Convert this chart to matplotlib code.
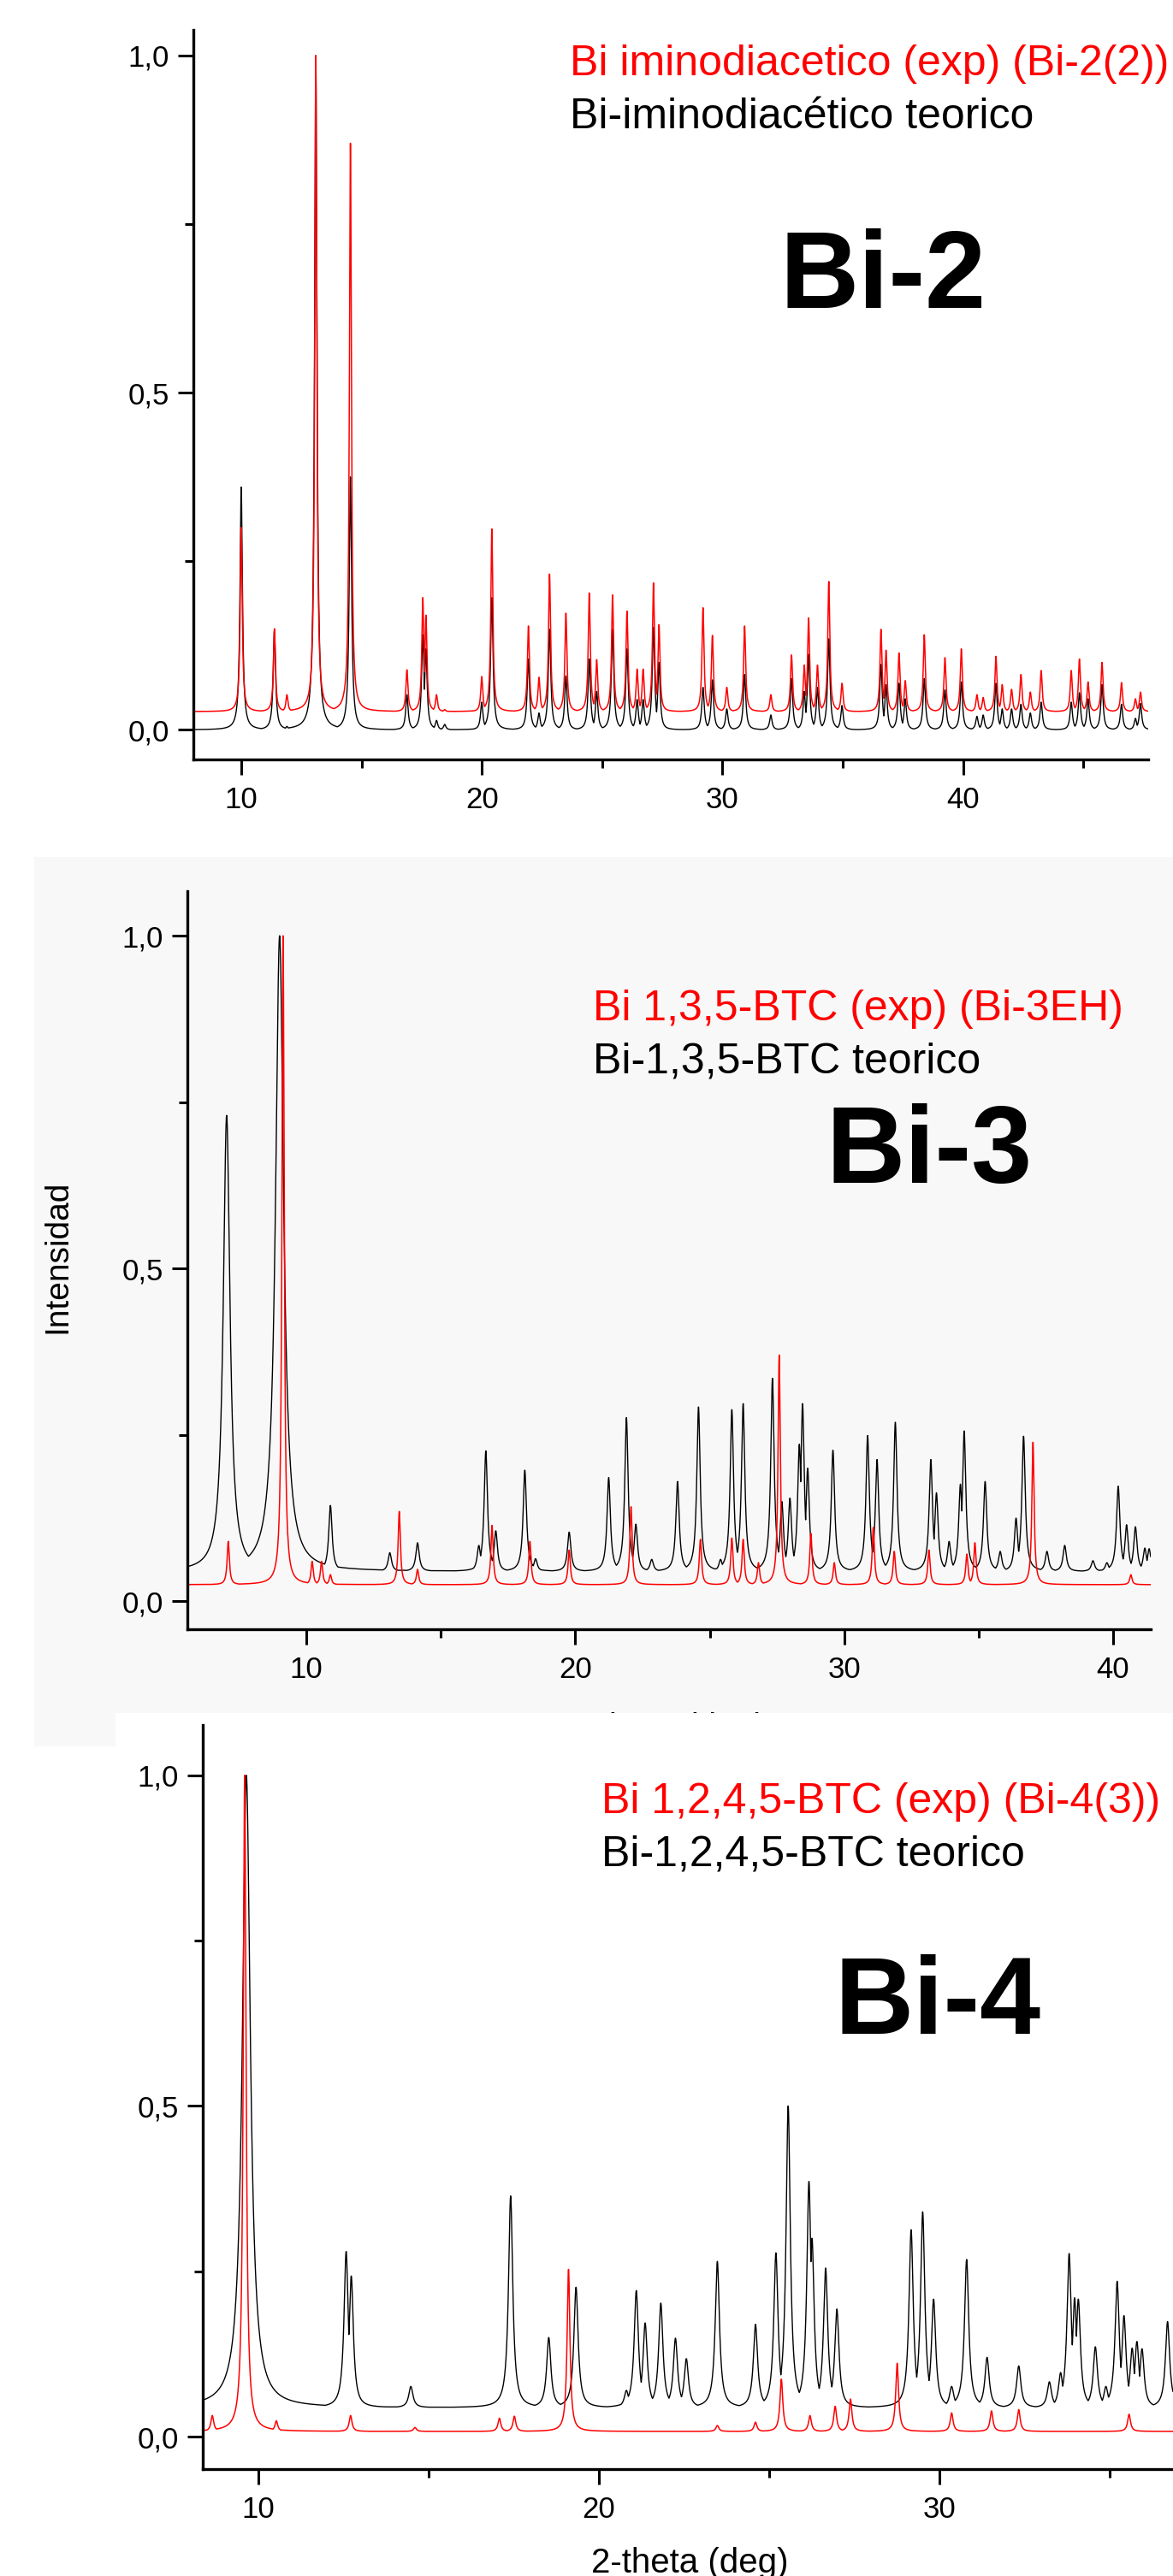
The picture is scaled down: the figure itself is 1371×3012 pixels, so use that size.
import numpy as np
import matplotlib.pyplot as plt
from matplotlib.patches import Rectangle
from matplotlib.ticker import FuncFormatter, MultipleLocator

plt.rcParams['font.family'] = ['Liberation Sans', 'DejaVu Sans']

W, H = 1371, 3012

# ---- Bi-2 : posiciones de picos (2-theta) y alturas leidas ----
B2_POS = [9.99, 11.37, 11.89, 13.09, 14.53, 16.88, 17.54, 17.67, 18.11, 18.45,
          19.99, 20.41, 21.93, 22.37, 22.81, 23.49, 24.46, 24.77, 25.43, 26.03,
          26.45, 26.70, 27.13, 27.36, 29.19, 29.58, 30.18, 30.92, 32.01, 32.87,
          33.40, 33.58, 33.95, 34.42, 34.97, 36.59, 36.80, 37.34, 37.60, 38.39,
          39.25, 39.93, 40.58, 40.84, 41.37, 41.63, 42.02, 42.41, 42.80, 43.25,
          44.50, 44.84, 45.20, 45.78, 46.59, 47.17, 47.38]
B2_EXP = [0.30, 0.15, 0.052, 1.0, 0.87, 0.089, 0.196, 0.17, 0.052, 0.03,
          0.079, 0.298, 0.154, 0.078, 0.231, 0.173, 0.203, 0.104, 0.20, 0.176,
          0.09, 0.09, 0.218, 0.156, 0.181, 0.14, 0.063, 0.154, 0.052, 0.111,
          0.096, 0.166, 0.096, 0.22, 0.069, 0.149, 0.118, 0.114, 0.073, 0.141,
          0.107, 0.12, 0.052, 0.048, 0.109, 0.067, 0.06, 0.082, 0.056, 0.088,
          0.088, 0.105, 0.071, 0.10, 0.07, 0.046, 0.056]
B2_TEO = [0.36, 0.148, 0.005, 1.0, 0.375, 0.052, 0.141, 0.12, 0.014, 0.008,
          0.041, 0.196, 0.105, 0.025, 0.149, 0.08, 0.105, 0.057, 0.149, 0.12,
          0.045, 0.045, 0.152, 0.10, 0.063, 0.074, 0.031, 0.082, 0.022, 0.076,
          0.057, 0.112, 0.063, 0.135, 0.036, 0.097, 0.067, 0.069, 0.046, 0.076,
          0.059, 0.071, 0.02, 0.022, 0.069, 0.031, 0.031, 0.038, 0.025, 0.041,
          0.041, 0.055, 0.046, 0.067, 0.038, 0.017, 0.039]

# ---- Bi-3 ----
B3_TEO_POS = [7.03, 9.00, 10.89, 13.10, 14.13, 16.41, 16.67, 17.04, 18.12, 18.52,
              19.77, 21.24, 21.90, 22.25, 22.84, 23.80, 24.58, 25.40, 25.82, 26.24,
              27.33, 27.68, 27.98, 28.33, 28.45, 28.64, 29.58, 30.87, 31.22, 31.90,
              33.22, 33.43, 33.90, 34.32, 34.46, 35.24, 35.80, 36.39, 36.67, 37.54,
              38.20, 39.25, 39.77, 40.19, 40.50, 40.83, 41.18, 41.34]
B3_TEO = [0.73, 1.0, 0.144, 0.073, 0.088, 0.084, 0.226, 0.106, 0.197, 0.064,
          0.104, 0.186, 0.276, 0.116, 0.063, 0.18, 0.292, 0.063, 0.288, 0.297,
          0.335, 0.15, 0.155, 0.236, 0.297, 0.20, 0.227, 0.249, 0.213, 0.269,
          0.213, 0.163, 0.09, 0.176, 0.256, 0.18, 0.075, 0.125, 0.248, 0.075,
          0.084, 0.061, 0.058, 0.173, 0.115, 0.112, 0.08, 0.079]
B3_EXP_POS = [7.09, 9.13, 9.30, 10.21, 10.56, 10.89, 13.45, 14.13, 16.90, 18.31,
              19.77, 22.07, 24.65, 25.82, 26.24, 26.81, 27.58, 28.76, 29.63, 31.08,
              31.86, 33.15, 34.56, 34.86, 37.02, 40.66]
B3_EXP = [0.09, 1.0, 0.10, 0.06, 0.06, 0.04, 0.135, 0.048, 0.114, 0.09,
          0.077, 0.142, 0.093, 0.095, 0.093, 0.058, 0.37, 0.102, 0.058, 0.111,
          0.075, 0.077, 0.071, 0.088, 0.239, 0.04]

# ---- Bi-4 ----
B4_TEO_POS = [9.65, 12.58, 12.73, 14.48, 17.41, 18.53, 19.33, 20.81, 21.10, 21.36,
              21.82, 22.25, 22.57, 23.48, 24.60, 25.20, 25.56, 26.17, 26.26, 26.66,
              26.99, 29.17, 29.51, 29.83, 30.36, 30.80, 31.40, 32.33, 33.23, 33.56,
              33.81, 33.97, 34.08, 34.58, 34.89, 35.22, 35.42, 35.66, 35.80, 35.95,
              36.70]
B4_TEO = [1.0, 0.28, 0.243, 0.076, 0.364, 0.15, 0.226, 0.07, 0.221, 0.172,
          0.202, 0.149, 0.118, 0.265, 0.17, 0.278, 0.50, 0.386, 0.30, 0.255,
          0.193, 0.313, 0.34, 0.208, 0.076, 0.268, 0.12, 0.107, 0.083, 0.097,
          0.277, 0.21, 0.208, 0.136, 0.076, 0.235, 0.183, 0.134, 0.144, 0.133,
          0.174]
B4_EXP_POS = [8.65, 9.60, 9.89, 10.53, 12.71, 14.60, 17.08, 17.52, 19.11, 23.48,
              24.60, 25.36, 26.20, 26.94, 27.39, 28.76, 30.36, 31.53, 32.33, 35.57]
B4_EXP = [0.032, 1.0, 0.031, 0.024, 0.032, 0.014, 0.028, 0.031, 0.253, 0.017,
          0.022, 0.087, 0.032, 0.046, 0.057, 0.111, 0.036, 0.039, 0.041, 0.034]


def pattern(x, pos, heights, base, w, wide=None):
    # envolvente de lorentzianas sobre una linea base (conserva las alturas leidas)
    y = np.zeros_like(x)
    for p, h in zip(pos, heights):
        ww = wide.get(p, w) if wide else w
        y = np.maximum(y, (h - base) / (1 + ((x - p) / (ww / 2)) ** 2))
    return base + y


def comma(v, _):
    return f"{v:.1f}".replace('.', ',')


def make_axes(fig, left, top, right, bottom, xlim, ylim):
    ax = fig.add_axes([left / W, 1 - bottom / H, (right - left) / W, (bottom - top) / H])
    ax.set_xlim(xlim)
    ax.set_ylim(ylim)
    ax.patch.set_alpha(0)
    for s in ['top', 'right']:
        ax.spines[s].set_visible(False)
    for s in ['left', 'bottom']:
        ax.spines[s].set_linewidth(2.4)
    ax.xaxis.set_major_locator(MultipleLocator(10))
    ax.xaxis.set_minor_locator(MultipleLocator(5))
    ax.yaxis.set_major_locator(MultipleLocator(0.5))
    ax.yaxis.set_minor_locator(MultipleLocator(0.25))
    ax.yaxis.set_major_formatter(FuncFormatter(comma))
    ax.tick_params(which='major', direction='out', length=13, width=2.2, labelsize=25, pad=7)
    ax.tick_params(which='minor', direction='out', length=7, width=2.2)
    ax.tick_params(axis='x', which='major', pad=9)
    return ax


def ftext(x, y, s, **kw):
    fig.text(x / W, 1 - y / H, s, **kw)


fig = plt.figure(figsize=(W / 100, H / 100), dpi=100)

# fondos de los recortes
fig.patches.append(Rectangle((40 / W, 1 - 2042 / H), 1 - 40 / W, 1040 / H,
                             transform=fig.transFigure, facecolor='#f8f8f8',
                             edgecolor='none', zorder=-1))
fig.patches.append(Rectangle((135 / W, 0), 1 - 135 / W, 1 - 2003 / H,
                             transform=fig.transFigure, facecolor='white',
                             edgecolor='none', zorder=1))

# ---- panel Bi-2 ----
ax1 = make_axes(fig, 226, 35, 1342, 888, (8.0, 47.7), (-0.044, 1.038))
x1 = np.arange(8.0, 47.7, 0.005)
ax1.plot(x1, pattern(x1, B2_POS, B2_TEO, 0.0, 0.12), color='black', lw=1.0)
ax1.plot(x1, pattern(x1, B2_POS, B2_EXP, 0.027, 0.10), color='#ff0000', lw=1.1)
ftext(666, 88, 'Bi iminodiacetico (exp) (Bi-2(2))', color='#ff0000', fontsize=36, va='baseline')
ftext(666, 150, 'Bi-iminodiacético teorico', color='black', fontsize=36, va='baseline')
ftext(911, 360, 'Bi-2', fontsize=92, fontweight='bold', va='baseline')

# ---- panel Bi-3 ----
ax2 = make_axes(fig, 219, 1042, 1345, 1905, (5.57, 41.4), (-0.042, 1.067))
x2 = np.arange(5.57, 41.4, 0.005)
ax2.plot(x2, pattern(x2, B3_TEO_POS, B3_TEO, 0.045, 0.15, {7.03: 0.30, 9.00: 0.36}),
         color='black', lw=1.0)
ax2.plot(x2, pattern(x2, B3_EXP_POS, B3_EXP, 0.025, 0.10), color='#ff0000', lw=1.1)
ftext(693, 1193, 'Bi 1,3,5-BTC (exp) (Bi-3EH)', color='#ff0000', fontsize=36, va='baseline')
ftext(693, 1254, 'Bi-1,3,5-BTC teorico', color='black', fontsize=36, va='baseline')
ftext(966, 1383, 'Bi-3', fontsize=92, fontweight='bold', va='baseline')
ftext(780, 2032, '2-theta (deg)', fontsize=29, ha='center', va='baseline', zorder=0.5)
ftext(67, 1469, 'Intensidad', fontsize=28, rotation=90, ha='center', va='center')

# ---- panel Bi-4 ----
ax3 = make_axes(fig, 237, 2017, 1371, 2887, (8.37, 36.86), (-0.049, 1.076))
ax3.set_zorder(2)
x3 = np.arange(8.37, 36.86, 0.005)
ax3.plot(x3, pattern(x3, B4_TEO_POS, B4_TEO, 0.044, 0.15, {9.65: 0.28}),
         color='black', lw=1.0)
ax3.plot(x3, pattern(x3, B4_EXP_POS, B4_EXP, 0.008, 0.10), color='#ff0000', lw=1.1)
ftext(703, 2120, 'Bi 1,2,4,5-BTC (exp) (Bi-4(3))', color='#ff0000', fontsize=36,
      va='baseline', zorder=3)
ftext(703, 2181, 'Bi-1,2,4,5-BTC teorico', color='black', fontsize=36, va='baseline', zorder=3)
ftext(976, 2378, 'Bi-4', fontsize=92, fontweight='bold', va='baseline', zorder=3)
ftext(806, 3008, '2-theta (deg)', fontsize=29, ha='center', va='baseline', zorder=3)

fig.savefig('out.png', dpi=100)
